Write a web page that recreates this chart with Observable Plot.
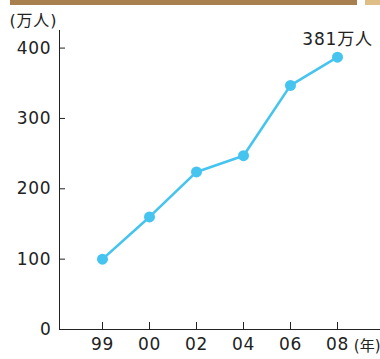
<!DOCTYPE html>
<html><head><meta charset="utf-8">
<script src="https://cdn.jsdelivr.net/npm/d3@7"></script>
<script src="https://cdn.jsdelivr.net/npm/@observablehq/plot@0.6"></script>
<style>
body{margin:0;background:#fff;}
#wrap{position:relative;width:380px;height:359px;}
.bar{position:absolute;top:0;height:5px;}
svg text{letter-spacing:0.8px;}
svg .unitx text{letter-spacing:0;}
</style>
</head><body>
<div id="wrap">
<div class="bar" style="left:10px;width:347px;background:#a8804f"></div>
<div class="bar" style="left:365px;width:15px;background:#dfbd86"></div>
</div>
<script>
const years = ["99","00","02","04","06","08"];
const visitors = [100, 160, 224, 247, 347, 387];
const yTicks = [0, 100, 200, 300, 400];
const yUnit = "(万人)";
const xUnit = "(年)";
const endLabel = "381万人";

const data = years.map((y, i) => ({year: y, value: visitors[i]}));
const last = data[data.length - 1];
const color = "#45c4f0";
const font = "'DejaVu Sans', 'Noto Sans CJK JP', sans-serif";

const chart = Plot.plot({
  width: 380, height: 359,
  marginLeft: 59, marginRight: 0, marginTop: 30, marginBottom: 30,
  style: {fontFamily: font, fontSize: "17px", color: "#222", background: "transparent"},
  x: {type: "point", domain: years, padding: 0.9, tickSize: -7, tickPadding: 15, label: null},
  y: {domain: [0, 425], ticks: yTicks, tickSize: -6, tickPadding: 14, line: true, label: null},
  marks: [
    Plot.ruleY([0], {stroke: "#222", strokeWidth: 1.2}),
    Plot.line(data, {x: "year", y: "value", stroke: color, strokeWidth: 2.6}),
    Plot.dot(data, {x: "year", y: "value", fill: color, r: 5.5}),
    Plot.text([last], {x: "year", y: "value", text: () => endLabel, dy: -18, fontSize: 17, fill: "#222"}),
    Plot.text([yUnit], {frameAnchor: "top-left", text: d => d, dx: -50, dy: -10, textAnchor: "start", lineAnchor: "middle", fontSize: 16, fill: "#222"}),
    Plot.text([xUnit], {frameAnchor: "bottom-right", text: d => d, dx: 0, dy: 17, textAnchor: "end", lineAnchor: "middle", fontSize: 15, fill: "#222", className: "unitx"})
  ]
});
const wrap = document.getElementById("wrap");
chart.style.position = "absolute";
chart.style.left = "0";
chart.style.top = "0";
wrap.appendChild(chart);
</script>
</body></html>
